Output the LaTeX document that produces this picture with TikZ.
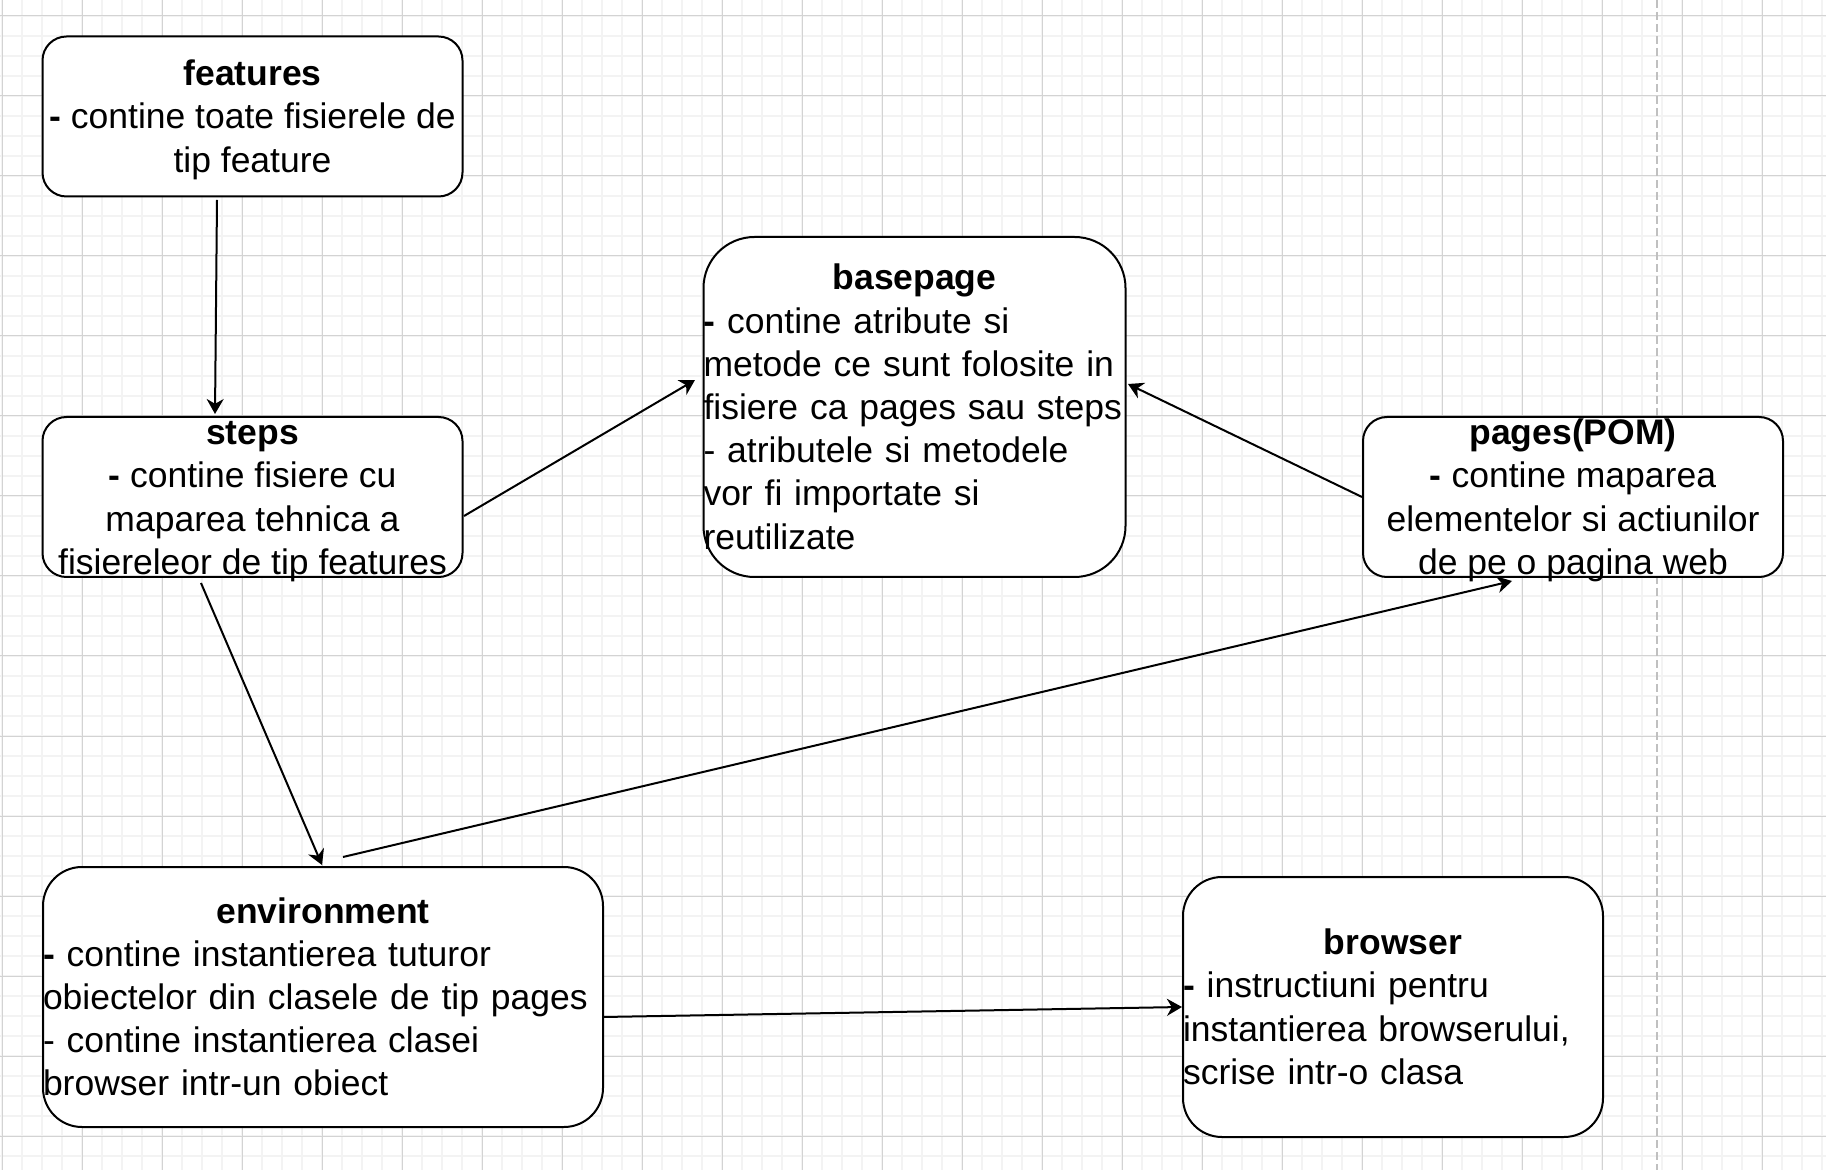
\documentclass[tikz,border=0pt]{standalone}
\usepackage{fontspec}
\setmainfont{Liberation Sans}
\usetikzlibrary{arrows.meta,calc}
\definecolor{gridminor}{HTML}{F3F3F3}
\definecolor{gridmajor}{HTML}{D3D3D3}
\definecolor{dashgray}{HTML}{C0C0C0}
\newcommand\lstrut{\rule[-4.56pt]{0pt}{21.6pt}}
\newcommand\dfont{\fontsize{17.75}{21.6}\selectfont}
\newcommand\ctitle[2]{\makebox[#1][c]{\textbf{#2}}}
\tikzset{
  box/.style={draw=black, line width=1pt, fill=white, rectangle, inner sep=0pt, outer sep=0pt},
  txt/.style={inner sep=0pt, outer sep=0pt, font=\dfont},
  conn/.style={draw=black, line width=1pt, -{Stealth[length=7.5pt,width=8.5pt,inset=2.4pt]}},
  minorgrid/.style={line width=1pt, color=gridminor},
  majorgrid/.style={line width=0.5pt, color=gridmajor},
}
\begin{document}
\begin{tikzpicture}[x=0.5pt,y=-0.5pt]
\useasboundingbox (0,0) rectangle (1826,1170);
\fill[white] (0,0) rectangle (1826,1170);
\begin{scope}
\clip (0,0) rectangle (1826,1170);
\foreach \gx in {2,22,...,1822} \draw[minorgrid] (\gx,0) -- (\gx,1170);
\foreach \gy in {-4,16,...,1176} \draw[minorgrid] (0,\gy) -- (1826,\gy);
\foreach \gx in {2,82,...,1762} \draw[majorgrid] (\gx,0) -- (\gx,1170);
\foreach \gy in {16,96,...,1136} \draw[majorgrid] (0,\gy) -- (1826,\gy);
\draw[dashgray, line width=0.8pt, dash pattern=on 4pt off 2pt] (1657,0) -- (1657,1170);
\end{scope}

% boxes
\node[box, minimum width=210pt, minimum height=80pt, rounded corners=12pt] (features) at (252.5,116.5) {};
\node[box, minimum width=210pt, minimum height=80pt, rounded corners=12pt] (steps) at (252.5,497) {};
\node[box, minimum width=211pt, minimum height=170pt, rounded corners=25.5pt] (basepage) at (914.5,407) {};
\node[box, minimum width=210pt, minimum height=80pt, rounded corners=12pt] (pages) at (1573,497) {};
\node[box, minimum width=280pt, minimum height=130pt, rounded corners=19.5pt] (environment) at (323,997) {};
\node[box, minimum width=210pt, minimum height=130pt, rounded corners=19.5pt] (browser) at (1393,1007) {};

% texts
\node[txt, align=center] (featurestxt) at (features.center)
  {\lstrut\textbf{features}\\\lstrut\textbf{-} contine toate fisierele de\\\lstrut tip feature};
\node[txt, align=center] (stepstxt) at (steps.center)
  {\lstrut\textbf{steps}\\\lstrut\textbf{-} contine fisiere cu\\\lstrut maparea tehnica a\\\lstrut fisiereleor de tip features};
\node[txt, align=left, text width=216pt] (basepagetxt) at ($(basepage.center)+(5,0)$)
  {\lstrut\ctitle{211pt}{basepage}\\\lstrut\textbf{-} contine atribute si\\\lstrut metode ce sunt folosite in\\\lstrut fisiere ca pages sau steps\\\lstrut - atributele si metodele\\\lstrut vor fi importate si\\\lstrut reutilizate};
\node[txt, align=center] (pagestxt) at (pages.center)
  {\lstrut\textbf{pages(POM)}\\\lstrut\textbf{-} contine maparea\\\lstrut elementelor si actiunilor\\\lstrut de pe o pagina web};
\node[txt, align=left, text width=280pt] (environmenttxt) at (environment.center)
  {\lstrut\ctitle{280pt}{environment}\\\lstrut\textbf{-} contine instantierea tuturor\\\lstrut obiectelor din clasele de tip pages\\\lstrut - contine instantierea clasei\\\lstrut browser intr-un obiect};
\node[txt, align=left, text width=210pt] (browsertxt) at (browser.center)
  {\lstrut\ctitle{210pt}{browser}\\\lstrut\textbf{-} instructiuni pentru\\\lstrut instantierea browserului,\\\lstrut scrise intr-o clasa};

% connectors
\draw[conn] ($(features.south)+(-35.5,3.5)$) -- ($(steps.north)+(-37.5,-3)$);
\draw[conn] ($(steps.east)+(1.5,19)$) -- ($(basepage.west)+(-8.5,-27)$);
\draw[conn] ($(pages.west)+(-1,0)$) -- ($(basepage.east)+(2.5,-23)$);
\draw[conn] ($(steps.south)+(-51.5,6)$) -- ($(environment.north)+(-1,-2)$);
\draw[conn] ($(environment.north)+(20,-10)$) -- ($(pages.south)+(-61,4)$);
\draw[conn] ($(environment.east)+(0,20)$) -- ($(browser.west)+(-1,0)$);
\end{tikzpicture}
\end{document}
